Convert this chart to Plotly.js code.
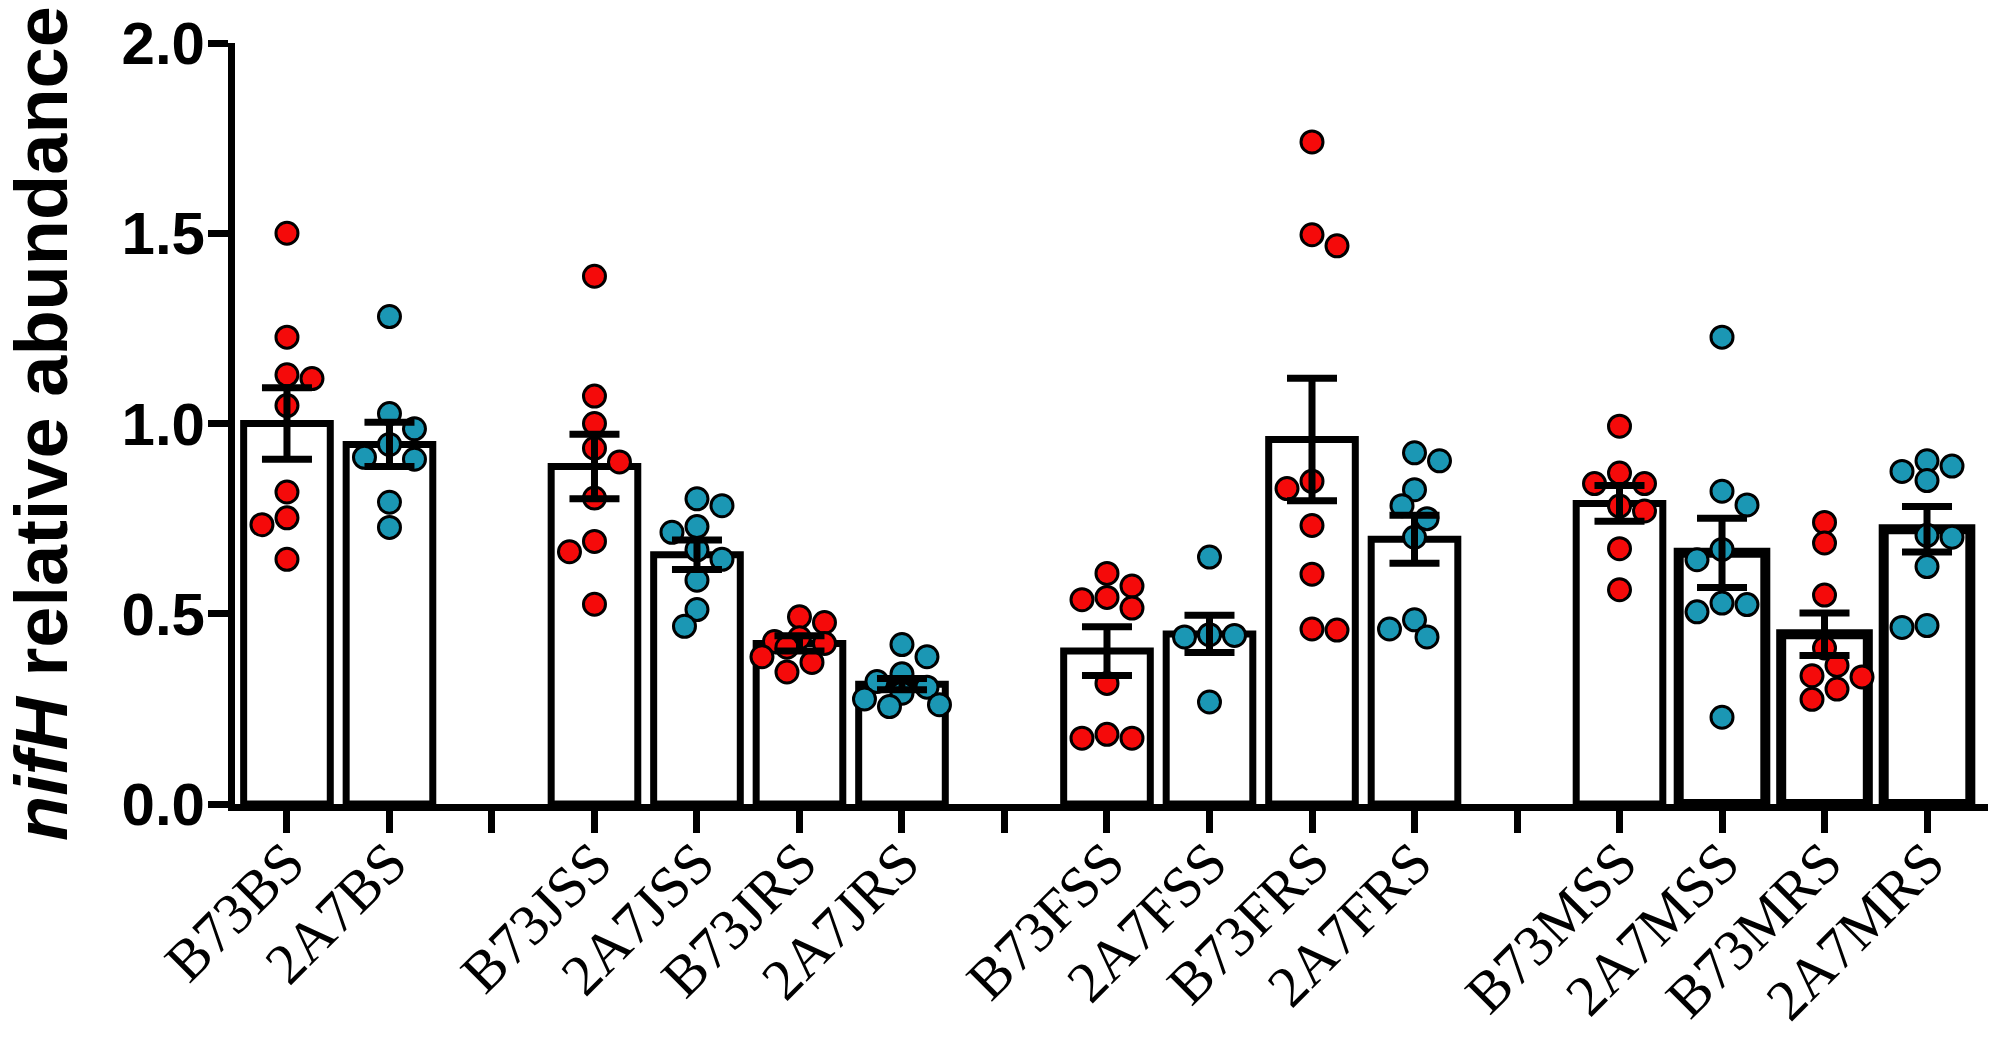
<!DOCTYPE html>
<html>
<head>
<meta charset="utf-8">
<script src="https://cdn.plot.ly/plotly-3.0.1.min.js"></script>
<style>
  html, body { margin: 0; padding: 0; background: #ffffff; }
  #chart { width: 1995px; height: 1049px; }
</style>
</head>
<body>
<div id="chart"></div>
<script>
// ---------------- DATA ----------------
// Category slots along the x axis; '' marks an empty spacer slot between groups.
const categories = ['B73BS', '2A7BS', '', 'B73JSS', '2A7JSS', 'B73JRS', '2A7JRS', '',
                    'B73FSS', '2A7FSS', 'B73FRS', '2A7FRS', '',
                    'B73MSS', '2A7MSS', 'B73MRS', '2A7MRS'];

// Bar heights (means) and error bars (SEM)
const means = [1.000, 0.945, null, 0.887, 0.655, 0.422, 0.315, null,
               0.402, 0.447, 0.958, 0.696, null,
               0.790, 0.660, 0.446, 0.722];
const sems  = [0.094, 0.058, null, 0.085, 0.039, 0.020, 0.015, null,
               0.064, 0.049, 0.161, 0.063, null,
               0.047, 0.091, 0.056, 0.060];

// Individual replicate values per sample
const B73BS  = [1.500, 1.227, 1.128, 1.118, 1.047, 0.820, 0.752, 0.734, 0.643];
const A2A7BS = [1.281, 1.026, 0.986, 0.945, 0.911, 0.906, 0.793, 0.727];
const B73JSS = [1.387, 1.072, 1.000, 0.935, 0.899, 0.804, 0.690, 0.663, 0.525];
const A2A7JSS = [0.802, 0.784, 0.729, 0.714, 0.668, 0.643, 0.588, 0.511, 0.467];
const B73JRS = [0.492, 0.477, 0.437, 0.427, 0.422, 0.412, 0.387, 0.372, 0.347];
const A2A7JRS = [0.419, 0.387, 0.342, 0.322, 0.307, 0.291, 0.276, 0.261, 0.256];
const B73FSS = [0.606, 0.573, 0.543, 0.537, 0.515, 0.317, 0.183, 0.173, 0.173];
const A2A7FSS = [0.649, 0.445, 0.443, 0.439, 0.268];
const B73FRS = [1.740, 1.496, 1.467, 0.848, 0.829, 0.732, 0.604, 0.460, 0.457];
const A2A7FRS = [0.923, 0.902, 0.826, 0.784, 0.750, 0.701, 0.484, 0.460, 0.439];
const B73MSS = [0.993, 0.870, 0.842, 0.842, 0.783, 0.770, 0.671, 0.563];
const A2A7MSS = [1.227, 0.822, 0.786, 0.669, 0.642, 0.528, 0.524, 0.505, 0.228];
const B73MRS = [0.740, 0.686, 0.549, 0.410, 0.364, 0.337, 0.334, 0.302, 0.275];
const A2A7MRS = [0.902, 0.888, 0.874, 0.850, 0.706, 0.701, 0.624, 0.469, 0.464];

const replicates = [B73BS, A2A7BS, null, B73JSS, A2A7JSS, B73JRS, A2A7JRS, null,
                    B73FSS, A2A7FSS, B73FRS, A2A7FRS, null,
                    B73MSS, A2A7MSS, B73MRS, A2A7MRS];

const yTickVals = [0, 0.5, 1.0, 1.5, 2.0];
const yTickText = ['0.0', '0.5', '1.0', '1.5', '2.0'];

// ---------------- STYLE / LAYOUT CONSTANTS ----------------
const W = 1995, H = 1049;
const M = { l: 235, r: 7, t: 43, b: 245 };
const X_RANGE = [-0.507, 16.595];
const Y_RANGE = [0, 2];
const RED = '#f50a0a';
const TEAL = '#1b97b4';
const BAR_WIDTH = 0.845;
const MARKER_SIZE = 22;
const MARKER_LINE = 3;
const thickOutline = ['2A7MSS', 'B73MRS', '2A7MRS'];

const plotW = W - M.l - M.r;
const plotH = H - M.t - M.b;
const pxPerX = plotW / (X_RANGE[1] - X_RANGE[0]);
const pxPerY = plotH / (Y_RANGE[1] - Y_RANGE[0]);

// Deterministic beeswarm (overlap-tolerant, compact like GraphPad Prism scatter)
function swarmOffsets(values) {
  const D = MARKER_SIZE + MARKER_LINE;   // outer diameter in px
  const minDist = D * 0.8;
  const step = D * 0.5;
  const maxK = 3;
  const order = values.map((v, i) => i).sort((a, b) => values[b] - values[a]);
  const placed = [];
  const off = new Array(values.length).fill(0);
  order.forEach(i => {
    const dy = values[i] * pxPerY;
    const nearest = dx => placed.reduce((m, p) => Math.min(m, Math.hypot(p.dx - dx, p.dy - dy)), Infinity);
    const left = placed.filter(p => p.dx < 0).length;
    const right = placed.filter(p => p.dx > 0).length;
    const signs = right <= left ? [1, -1] : [-1, 1];
    const cands = [0];
    for (let k = 1; k <= maxK; k++) signs.forEach(s => cands.push(s * k * step));
    let chosen = null, best = -1, bestDx = 0;
    for (const c of cands) {
      const d = nearest(c);
      if (d >= minDist) { chosen = c; break; }
      if (d > best + 0.5) { best = d; bestDx = c; }
    }
    if (chosen === null) chosen = bestDx;
    placed.push({ dx: chosen, dy: dy });
    off[i] = chosen / pxPerX;
  });
  return off;
}

// ---------------- BUILD TRACES ----------------
const slots = categories.map((c, i) => i);
const barIdx = slots.filter(i => categories[i] !== '');

const barTrace = {
  type: 'bar',
  x: barIdx,
  y: barIdx.map(i => means[i]),
  width: BAR_WIDTH,
  marker: {
    color: '#ffffff',
    line: { color: '#000000', width: barIdx.map(i => thickOutline.includes(categories[i]) ? 10 : 7) }
  },
  hoverinfo: 'skip',
  showlegend: false
};

function pointsTrace(prefix, color) {
  const xs = [], ys = [];
  barIdx.forEach(i => {
    if (!categories[i].startsWith(prefix)) return;
    const vals = replicates[i];
    const offs = swarmOffsets(vals);
    vals.forEach((v, j) => { xs.push(i + offs[j]); ys.push(v); });
  });
  return {
    type: 'scatter', mode: 'markers', x: xs, y: ys,
    marker: { size: MARKER_SIZE, color: color, line: { color: '#000000', width: MARKER_LINE } },
    hoverinfo: 'y', showlegend: false, cliponaxis: false
  };
}

const errTrace = {
  type: 'scatter', mode: 'markers',
  x: barIdx,
  y: barIdx.map(i => means[i]),
  marker: { size: 1, opacity: 0 },
  error_y: { type: 'data', array: barIdx.map(i => sems[i]), visible: true,
             color: '#000000', thickness: 7, width: 25 },
  hoverinfo: 'skip', showlegend: false
};

const data = [barTrace, pointsTrace('B73', RED), pointsTrace('2A7', TEAL), errTrace];

const layout = {
  width: W, height: H,
  margin: M,
  paper_bgcolor: '#ffffff',
  plot_bgcolor: '#ffffff',
  showlegend: false,
  bargap: 0,
  xaxis: {
    range: X_RANGE,
    tickmode: 'array',
    tickvals: slots,
    ticktext: categories,
    tickangle: -45,
    tickfont: { family: 'Liberation Serif, Times New Roman, serif', size: 58, color: '#000000' },
    ticklabelstandoff: -28,
    ticks: 'outside', ticklen: 22, tickwidth: 7, tickcolor: '#000000',
    showline: true, linewidth: 7, linecolor: '#000000',
    showgrid: false, zeroline: false, automargin: false, fixedrange: true
  },
  yaxis: {
    range: Y_RANGE,
    tickmode: 'array',
    tickvals: yTickVals,
    ticktext: yTickText,
    tickfont: { family: 'Liberation Sans, Arial, sans-serif', size: 60, color: '#000000', weight: 'bold' },
    ticklabelstandoff: -9,
    ticks: 'outside', ticklen: 20, tickwidth: 7, tickcolor: '#000000',
    showline: true, linewidth: 7, linecolor: '#000000',
    showgrid: false, zeroline: false, automargin: false, fixedrange: true,
    title: {
      text: '<i>nifH</i> relative abundance',
      font: { family: 'Liberation Sans, Arial, sans-serif', size: 74, color: '#000000', weight: 'bold' },
      standoff: 36
    }
  }
};

Plotly.newPlot('chart', data, layout, { staticPlot: true, displayModeBar: false });
</script>
</body>
</html>
